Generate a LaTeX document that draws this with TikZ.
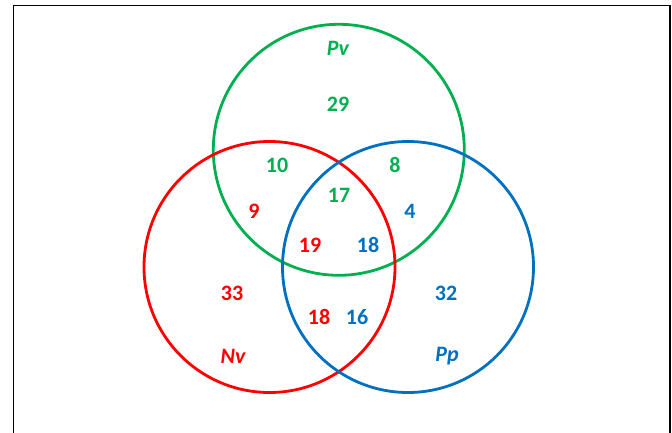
\documentclass[tikz,border=0pt]{standalone}
\usepackage{fontspec}
\setmainfont{Carlito}
\usepackage{tikz}
\usetikzlibrary{positioning}
\usepackage{xcolor}
\definecolor{pvgreen}{HTML}{00B050}
\definecolor{nvred}{HTML}{FF0000}
\definecolor{ppblue}{HTML}{0070C0}

\begin{document}
\begin{tikzpicture}[x=1pt,y=-1pt,
    every set/.style={circle,draw,line width=2.8pt,minimum size=251pt,inner sep=0pt},
    count/.style={font=\fontsize{22}{26}\selectfont\bfseries,inner sep=0pt},
    setname/.style={font=\fontsize{22}{26}\selectfont\bfseries\itshape,inner sep=0pt}]
    \useasboundingbox (0,0) rectangle (672,433);
    \draw[line width=1.3pt] (13.5,433) -- (13.5,5.5) -- (670,5.5) -- (670,433);

    \node[every set,pvgreen] (pv) at (338.8,149.8) {};
    \node[every set,nvred]   (nv) at (269.5,267) {};
    \node[every set,ppblue]  (pp) at (408,267) {};

    \node[setname,pvgreen] (pvname) at (338,48)  {Pv};
    \node[setname,nvred]   (nvname) at (233,356) {Nv};
    \node[setname,ppblue]  (ppname) at (447,356) {Pp};

    \node[count,pvgreen] (g29) at (338,104) {29};
    \node[count,pvgreen] (g10) at (277,165) {10};
    \node[count,pvgreen] (g8)  at (395,165) {8};
    \node[count,pvgreen] (g17) at (339,195) {17};
    \node[count,nvred]   (r9)  at (254,211) {9};
    \node[count,ppblue]  (b4)  at (410,211) {4};
    \node[count,nvred]   (r19) at (310,245) {19};
    \node[count,ppblue]  (b18) at (368,245) {18};
    \node[count,nvred]   (r33) at (232,293) {33};
    \node[count,ppblue]  (b32) at (446,293) {32};
    \node[count,nvred]   (r18) at (319,317) {18};
    \node[count,ppblue]  (b16) at (357,317) {16};
\end{tikzpicture}
\end{document}
